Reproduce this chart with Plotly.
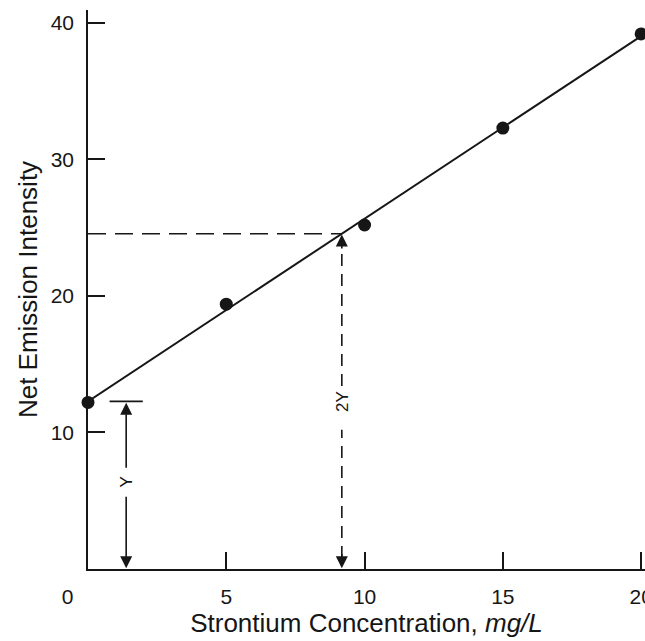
import numpy as np
import plotly.graph_objects as go

# ---- data ----
conc = [0, 5, 10, 15, 20]                    # Strontium concentration, mg/L
intensity = [12.2, 19.4, 25.2, 32.3, 39.2]   # net emission intensity
x_ticks = [0, 5, 10, 15, 20]
x_ticktext = ["0" + "\u00a0" * 7, "5", "10", "15", "20"]
y_ticks = [10, 20, 30, 40]
y_ticktext = ["10", "20", "30", "40"]

# calibration line (least squares through the standards)
m, b = np.polyfit(conc, intensity, 1)
line_x = [min(conc), max(conc)]
line_y = [b + m * v for v in line_x]
Y = b                  # intensity of unspiked sample
x2Y = (2 * Y - b) / m  # concentration where line reaches 2Y

INK = "#161616"
FONT = "Liberation Sans, Arial, sans-serif"
Y_ARROW_X = 1.38       # horizontal placement of the "Y" dimension arrow

fig = go.Figure()

fig.add_trace(go.Scatter(x=line_x, y=line_y, mode="lines",
                         line=dict(color=INK, width=2), hoverinfo="skip",
                         cliponaxis=False))
fig.add_trace(go.Scatter(x=conc, y=intensity, mode="markers",
                         marker=dict(color=INK, size=13), cliponaxis=False))
fig.add_trace(go.Scatter(x=[0, x2Y], y=[2 * Y, 2 * Y], mode="lines",
                         line=dict(color=INK, width=1.6, dash="18px,9px")))
fig.add_trace(go.Scatter(x=[x2Y, x2Y], y=[13.4, 2 * Y - 0.6], mode="lines",
                         line=dict(color=INK, width=1.6, dash="12px,8px")))
fig.add_trace(go.Scatter(x=[x2Y, x2Y], y=[0.8, 10.2], mode="lines",
                         line=dict(color=INK, width=1.6, dash="12px,8px")))
fig.add_trace(go.Scatter(x=[Y_ARROW_X - 0.6, Y_ARROW_X + 0.6], y=[Y, Y], mode="lines",
                         line=dict(color=INK, width=1.6)))

annotations = []
def arrow(x, y, ax, ay):
    annotations.append(dict(x=x, y=y, ax=ax, ay=ay, xref="x", yref="y",
                            axref="x", ayref="y", text="", showarrow=True,
                            arrowhead=2, arrowsize=1.5, arrowwidth=1.6,
                            arrowcolor=INK))

arrow(Y_ARROW_X, Y - 0.1, Y_ARROW_X, 7.3)
arrow(Y_ARROW_X, 0.05, Y_ARROW_X, 5.4)
annotations.append(dict(x=Y_ARROW_X, y=6.35, xref="x", yref="y", text="Y",
                        showarrow=False, textangle=-90,
                        font=dict(family=FONT, size=17, color=INK)))
arrow(x2Y, 2 * Y - 0.05, x2Y, 2 * Y - 1.2)
arrow(x2Y, 0.05, x2Y, 1.2)
annotations.append(dict(x=x2Y, y=12.3, xref="x", yref="y", text="2Y",
                        showarrow=False, textangle=-90,
                        font=dict(family=FONT, size=17, color=INK)))

fig.update_layout(
    width=645, height=641,
    margin=dict(l=88, r=0, t=10, b=72),
    paper_bgcolor="white", plot_bgcolor="white",
    showlegend=False,
    font=dict(family=FONT, color=INK),
    annotations=annotations,
    xaxis=dict(range=[0, 20.14], tickvals=x_ticks, ticktext=x_ticktext,
               automargin=False,
               ticks="inside", ticklen=17, tickwidth=1.5, tickcolor=INK,
               showline=True, linecolor=INK, linewidth=1.6,
               showgrid=False, zeroline=False,
               tickfont=dict(family=FONT, size=21, color=INK),
               ticklabelstandoff=8, ticklabeloverflow="allow",
               title=dict(text="Strontium Concentration, <i>mg/L</i>",
                          font=dict(family=FONT, size=26, color=INK),
                          standoff=4)),
    yaxis=dict(range=[0, 40.95], tickvals=y_ticks, ticktext=y_ticktext,
               automargin=False,
               ticks="inside", ticklen=17, tickwidth=1.5, tickcolor=INK,
               showline=True, linecolor=INK, linewidth=1.6,
               showgrid=False, zeroline=False,
               tickfont=dict(family=FONT, size=21, color=INK),
               ticklabelstandoff=8,
               title=dict(text="Net Emission Intensity",
                          font=dict(family=FONT, size=26, color=INK),
                          standoff=6)),
)

fig.write_html(
    "out.html",
    config={"displayModeBar": False},
    post_script="document.body.style.margin='0';document.body.style.overflow='hidden';",
)
